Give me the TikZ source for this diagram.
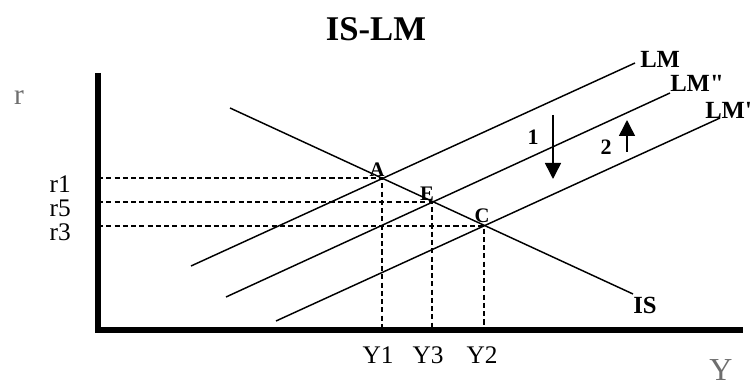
\documentclass[tikz,border=0pt]{standalone}
\usepackage{fontspec}
\setmainfont{Liberation Serif}
\newfontfamily\droit{Liberation Serif}
\usepackage{tikz}
\usetikzlibrary{arrows.meta}
\definecolor{grisaxe}{RGB}{110, 110, 110}
\definecolor{noircourbe}{RGB}{0, 0, 0}

\begin{document}
\begin{tikzpicture}[x=0.75pt, y=-0.75pt,
    courbe/.style={draw=noircourbe, line width=1.1pt},
    axe/.style={draw=noircourbe, line width=3.8pt},
    pointille/.style={draw=noircourbe, line width=0.9pt, dash pattern=on 3.8pt off 2.4pt},
    fleche/.style={line width=1.1pt, -{Triangle[width=12pt, length=12pt]}},
    valeur/.style={font=\fontsize{19}{19}\selectfont, inner sep=0pt},
    etiquette/.style={font=\fontsize{18.5}{18.5}\selectfont\bfseries, inner sep=0pt},
    point/.style={font=\fontsize{15.5}{15.5}\selectfont\bfseries, inner sep=0pt}]
  \useasboundingbox (0,0) rectangle (751,385);
  \node[font=\fontsize{26}{26}\selectfont\bfseries] (titre) at (376,29) {IS-LM};

  \coordinate (O) at (98,330);
  \coordinate (haut) at (98,73);
  \coordinate (droite) at (743,330);
  \coordinate (A) at (382,178);
  \coordinate (E) at (432,202);
  \coordinate (C) at (484,226);
  \coordinate (is1) at (230,108);
  \coordinate (is2) at (633,294);
  \coordinate (lm1) at (191,266);
  \coordinate (lm2) at (635,63);
  \coordinate (lmb1) at (226,297);
  \coordinate (lmb2) at (670,93);
  \coordinate (lma1) at (276,321);
  \coordinate (lma2) at (720,118);

  \foreach \p in {A,E,C}{
    \draw[pointille] (O |- \p) -- (\p) -- (\p |- O);
  }

  \draw[courbe] (is1) -- (is2);
  \draw[courbe] (lm1) -- (lm2);
  \draw[courbe] (lmb1) -- (lmb2);
  \draw[courbe] (lma1) -- (lma2);
  \draw[axe] (haut) -- (O) -- (droite);

  \node[etiquette, anchor=base west] (labLM) at (640,68) {LM};
  \node[etiquette, anchor=base west] (labLMb) at (670,92) {\droit LM"};
  \node[etiquette, anchor=base west] (labLMa) at (705,119) {\droit LM'};
  \node[etiquette, anchor=base west] (labIS) at (633,313) {IS};

  \node[point] (labA) at (377,170) {A};
  \node[point] (labE) at (427,194) {E};
  \node[point] (labC) at (482,216) {C};

  \coordinate (f1h) at (553,115);
  \coordinate (f1b) at (553,179);
  \coordinate (f2b) at (627,152);
  \coordinate (f2h) at (627,120);
  \draw[fleche] (f1h) -- (f1b);
  \draw[fleche] (f2b) -- (f2h);
  \node[point, font=\fontsize{16.5}{16.5}\selectfont\bfseries] (un) at (533,137) {1};
  \node[point, font=\fontsize{16.5}{16.5}\selectfont\bfseries] (deux) at (606,147) {2};

  \node[valeur, anchor=base east] (r1) at (71,193) {r1};
  \node[valeur, anchor=base east] (r5) at (71,217) {r5};
  \node[valeur, anchor=base east] (r3) at (71,241) {r3};
  \node[valeur, anchor=base] (y1) at (378,363) {Y1};
  \node[valeur, anchor=base] (y3) at (428,363) {Y3};
  \node[valeur, anchor=base] (y2) at (482,363) {Y2};

  \node[font=\fontsize{22}{22}\selectfont, text=grisaxe, anchor=base, inner sep=0pt] (r) at (19,105) {r};
  \node[font=\fontsize{24}{24}\selectfont, text=grisaxe, anchor=base, inner sep=0pt] (Y) at (721,380) {Y};
\end{tikzpicture}
\end{document}
